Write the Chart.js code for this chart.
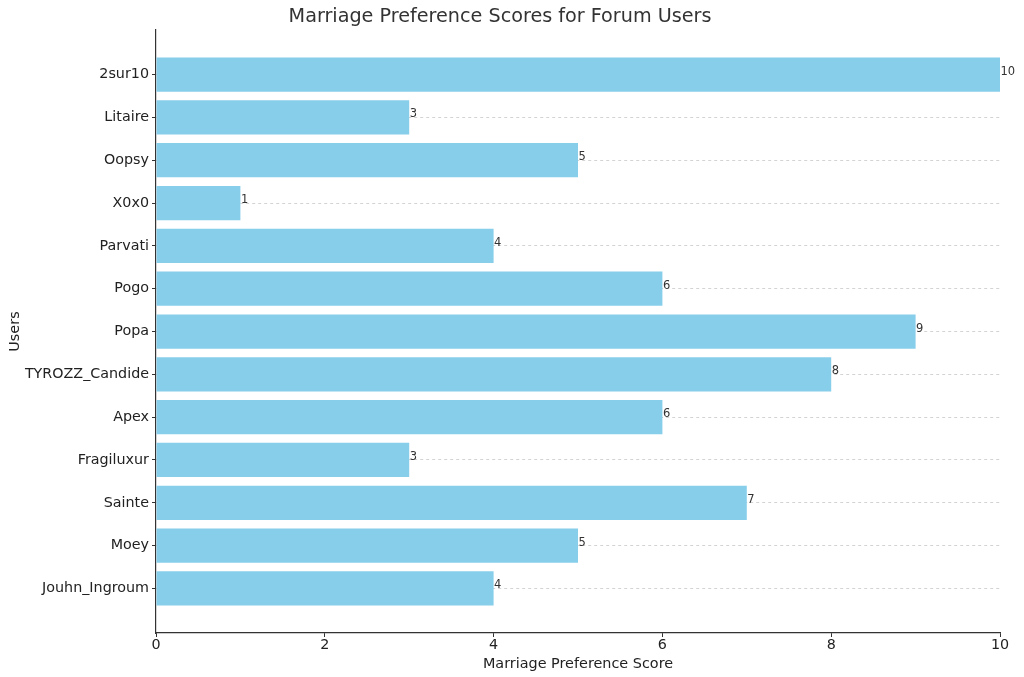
<!DOCTYPE html>
<html><head><meta charset="utf-8">
<script src="https://cdn.jsdelivr.net/npm/chart.js@4.4.0/dist/chart.umd.min.js"></script>
<style>html,body{margin:0;padding:0;background:#fff}#wrap{width:1024px;height:677px}</style>
</head><body><div id="wrap"><canvas id="c" width="1024" height="677"></canvas></div>
<script>
const categories = ["2sur10","Litaire","Oopsy","X0x0","Parvati","Pogo","Popa","TYROZZ_Candide","Apex","Fragiluxur","Sainte","Moey","Jouhn_Ingroum"];
const scores = [10,3,5,1,4,6,9,8,6,3,7,5,4];
const xTicks = [0,2,4,6,8,10];

const FONT = "'DejaVu Sans', sans-serif";
const valueLabels = {
  id: 'valueLabels',
  afterDatasetsDraw(chart) {
    const ctx = chart.ctx;
    const meta = chart.getDatasetMeta(0);
    ctx.save();
    ctx.font = "11.5px " + FONT;
    ctx.fillStyle = "#333";
    ctx.textAlign = "left";
    ctx.textBaseline = "alphabetic";
    meta.data.forEach((bar, i) => {
      ctx.fillText(String(scores[i]), bar.x + 0.5, bar.y);
    });
    ctx.restore();
  }
};

new Chart(document.getElementById('c'), {
  type: 'bar',
  data: {
    datasets: [{
      data: categories.map((c, i) => ({ y: i, x: scores[i] })),
      backgroundColor: '#87CEEB',
      borderWidth: 0,
      barPercentage: 0.8,
      categoryPercentage: 1.0
    }]
  },
  options: {
    indexAxis: 'y',
    responsive: false,
    animation: false,
    layout: { padding: { left: 0, right: 24, top: 0, bottom: 0 } },
    plugins: {
      legend: { display: false },
      tooltip: { enabled: false },
      title: {
        display: true,
        text: 'Marriage Preference Scores for Forum Users',
        color: '#333',
        font: { family: FONT, size: 19.2, weight: 'normal' },
        padding: { top: 5, bottom: 2 }
      }
    },
    scales: {
      x: {
        type: 'linear',
        min: 0, max: 10,
        bounds: 'data',
        afterBuildTicks: s => { s.ticks = xTicks.map(v => ({ value: v })); },
        afterFit: s => { s.height = 44; },
        grid: { drawOnChartArea: false, drawTicks: true, tickLength: 4, tickColor: '#333', color: '#333' },
        border: { display: true, color: '#333', width: 1.2 },
        ticks: { color: '#222', font: { family: FONT, size: 14.3 }, padding: 0 },
        title: { display: true, text: 'Marriage Preference Score', color: '#222', font: { family: FONT, size: 14.4 }, padding: { top: 0, bottom: 4 } }
      },
      y: {
        type: 'linear',
        reverse: true,
        offset: false,
        bounds: 'data',
        min: -1.04, max: 13.04,
        afterBuildTicks: s => { s.ticks = categories.map((c, i) => ({ value: i })); },
        afterFit: s => { s.width = 156; },
        grid: { offset: false, color: '#c8c8c8', lineWidth: 0.8, drawTicks: true, tickLength: 4, tickColor: '#333', tickWidth: 1, tickBorderDash: [] },
        border: { display: true, color: '#333', width: 1.2, dash: [3, 3] },
        ticks: { color: '#222', font: { family: FONT, size: 14.3 }, padding: 3, callback: v => categories[v] },
        title: { display: true, text: 'Users', color: '#222', font: { family: FONT, size: 14.4 }, padding: { top: 7, bottom: 0 } }
      }
    }
  },
  plugins: [valueLabels]
});
</script></body></html>
